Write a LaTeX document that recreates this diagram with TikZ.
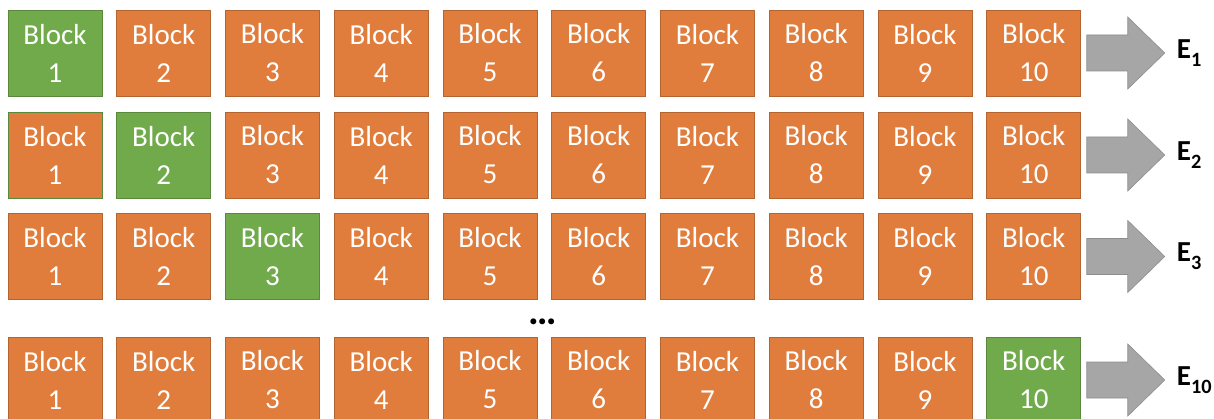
\documentclass[tikz,border=0pt]{standalone}
\usepackage{fontspec}
\setmainfont{Carlito}
\usepackage{xcolor}
\usetikzlibrary{positioning, calc}
\definecolor{korange}{HTML}{E07D3C}
\definecolor{kgreen}{HTML}{70AA4B}
\definecolor{kgray}{HTML}{A6A6A6}

\begin{document}
\begin{tikzpicture}[x=1pt, y=1pt,
  block/.style={draw=korange!80!black, fill=korange, line width=0.8pt,
    minimum width=94pt, minimum height=86pt, inner sep=0pt, outer sep=0pt,
    text=white, align=center, font=\fontsize{29}{38}\selectfont},
  hiblock/.style={block, draw=kgreen!80!black, fill=kgreen},
  elabel/.style={font=\bfseries\fontsize{29}{32}\selectfont, anchor=west, inner sep=0pt}]
\useasboundingbox (0,0) rectangle (1214,418);
% one row per ensemble member, green block is the one held out
\foreach \r/\y/\g/\n in {1/365/1/1, 2/263/2/2, 3/161.5/3/3, 4/38/10/10} {
  \foreach \c in {1,...,10} {
    \ifnum\c=\g \def\bsty{hiblock}\else \def\bsty{block}\fi
    \ifnum\c=1
      \node[\bsty] (b-\r-1) at (55,\y) {Block\\1};
    \else
      \pgfmathtruncatemacro\p{\c-1}
      \node[\bsty, right=14.75pt of b-\r-\p] (b-\r-\c) {Block\\\c};
    \fi
  }
  \coordinate (t-\r) at ($(b-\r-10.east)+(84,0)$);
  \filldraw[kgray, draw=kgray!85!black, line width=0.6pt]
    ($(b-\r-10.east)+(6,18)$) -- ($(b-\r-10.east)+(47,18)$)
    -- ($(b-\r-10.east)+(47,36)$) -- (t-\r)
    -- ($(b-\r-10.east)+(47,-36)$) -- ($(b-\r-10.east)+(47,-18)$)
    -- ($(b-\r-10.east)+(6,-18)$) -- cycle;
  \node[elabel, right=12pt of t-\r] (e-\r) {E\raisebox{-3pt}{\textsubscript{\n}}};
}
\draw[kgreen!80!black, line width=0.8pt] (b-2-1.south west) rectangle (b-2-1.north east);
\node[font=\bfseries\fontsize{40}{40}\selectfont] (dots) at (543,96) {…};
\end{tikzpicture}
\end{document}
